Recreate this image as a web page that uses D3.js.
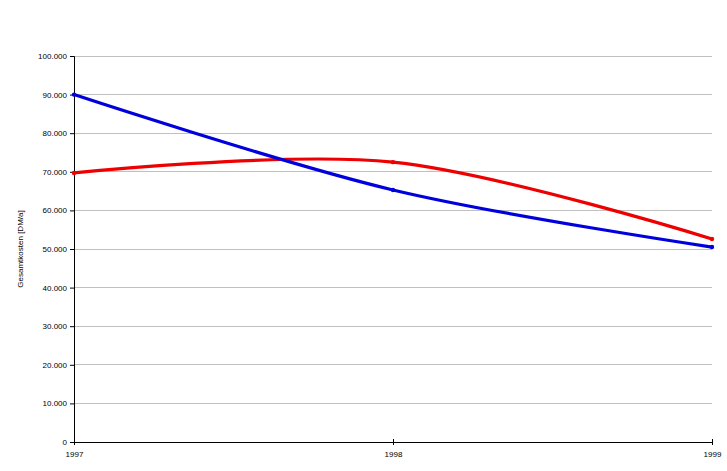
<!DOCTYPE html>
<html><head><meta charset="utf-8">
<script src="https://cdn.jsdelivr.net/npm/d3@7/dist/d3.min.js"></script>
<style>body{margin:0;background:#fff}svg{display:block}text{font-family:"Liberation Sans",Arial,sans-serif}</style>
</head><body>
<script>
const years = [1997, 1998, 1999];
const blueValues = [90000, 65300, 50500];
const redValues = [69700, 72500, 52600];
const yTicks = [0,10000,20000,30000,40000,50000,60000,70000,80000,90000,100000];
const yLabel = "Gesamtkosten [DM/a]";

const W = 727, H = 471;
const m = {left:74, right:15, top:56, bottom:29};
const svg = d3.select("body").append("svg").attr("width", W).attr("height", H);
const x = d3.scaleLinear().domain([1997,1999]).range([m.left, W - m.right]);
const y = d3.scaleLinear().domain([0,100000]).range([H - m.bottom, m.top]);

// gridlines
svg.append("g").selectAll("line").data(yTicks.filter(d=>d>0)).join("line")
  .attr("x1", x(1997)).attr("x2", x(1999))
  .attr("y1", d=>y(d)).attr("y2", d=>y(d))
  .attr("stroke", "#c0c0c0").attr("stroke-width", 1).attr("shape-rendering","crispEdges");

const fmt = d => d === 0 ? "0" : d3.format(",")(d).replace(/,/g, ".");
const yAxis = svg.append("g").attr("transform", `translate(${m.left},0)`)
  .call(d3.axisLeft(y).tickValues(yTicks).tickFormat(fmt).tickSize(4).tickPadding(3));
yAxis.select(".domain").attr("stroke","#000").attr("stroke-width",1);
yAxis.selectAll("text").attr("font-size", 8).attr("fill","#000");

const xAxis = svg.append("g").attr("transform", `translate(0,${H - m.bottom})`)
  .call(d3.axisBottom(x).tickValues(years).tickFormat(d3.format("d")).tickSize(3).tickPadding(6));
xAxis.select(".domain").attr("stroke","#000").attr("stroke-width",1);
xAxis.selectAll(".tick line").attr("y1", -3).attr("y2", 3);
xAxis.selectAll("text").attr("font-size", 8).attr("fill","#000");

svg.append("text").attr("transform", `translate(23,${(m.top + H - m.bottom)/2}) rotate(-90)`)
  .attr("text-anchor","middle").attr("font-size", 8).text(yLabel);

const line = d3.line().x((d,i)=>x(years[i])).y(d=>y(d)).curve(d3.curveCatmullRom.alpha(0));
function series(vals, color){
  svg.append("path").datum(vals).attr("d", line).attr("fill","none")
    .attr("stroke", color).attr("stroke-width", 3.2).attr("stroke-linejoin","round");
  svg.append("g").selectAll("circle").data(vals).join("circle")
    .attr("cx",(d,i)=>x(years[i])).attr("cy", d=>y(d)).attr("r", 2.2).attr("fill", color);
}
series(redValues, "#ee0000");
series(blueValues, "#0000dd");
</script>
</body></html>
